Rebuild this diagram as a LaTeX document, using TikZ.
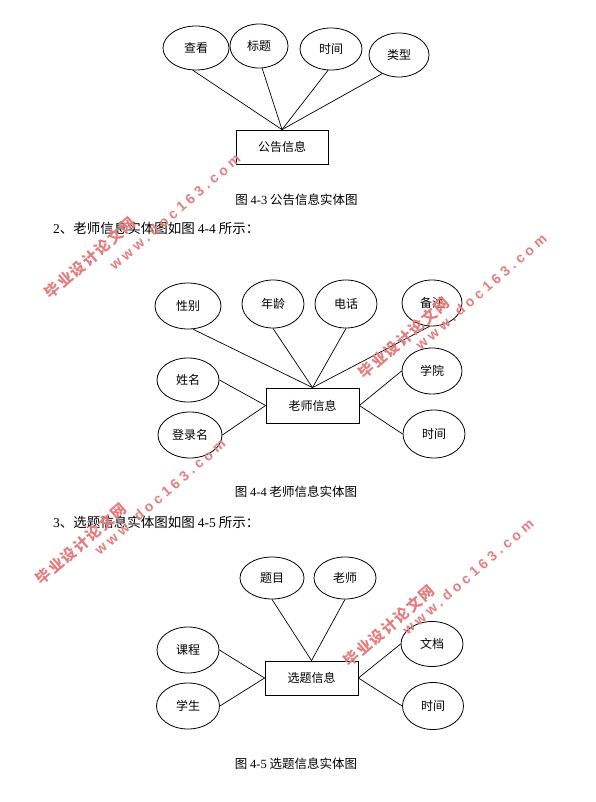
\documentclass[tikz,border=0pt]{standalone}
\usepackage{fontspec}
\setmainfont{Liberation Serif}
\newfontfamily\cjk{Noto Sans CJK SC}
\newfontfamily\wmcjk{Noto Sans CJK SC}[LetterSpace=10]
\newfontfamily\wmlat{Liberation Sans}[LetterSpace=28]
\usetikzlibrary{shapes.geometric}
\definecolor{wm}{RGB}{228,125,125}
\tikzset{
  attr/.style={draw, ellipse, inner sep=0pt, line width=0.8pt,
    font=\cjk\fontsize{12}{14}\selectfont},
  ent/.style={draw, rectangle, inner sep=0pt, line width=0.8pt,
    minimum width=93pt, minimum height=34pt,
    font=\cjk\fontsize{12}{14}\selectfont},
  conn/.style={line width=0.7pt},
  caption/.style={inner sep=0pt, font=\cjk\fontsize{12.5}{14}\selectfont},
  bodytext/.style={inner sep=0pt, anchor=west, font=\cjk\fontsize{13.5}{15}\selectfont},
  wmcn/.style={text=wm, rotate=41, inner sep=0pt, font=\wmcjk\bfseries\fontsize{15}{17}\selectfont},
  wmen/.style={text=wm, rotate=41, inner sep=0pt, font=\wmlat\bfseries\fontsize{14}{16}\selectfont},
}
\begin{document}
\begin{tikzpicture}[x=1pt,y=-1pt]
\useasboundingbox (0,0) rectangle (596,802);
\fill[white] (0,0) rectangle (596,802);

% ---------- Figure 4-3 ----------
\node[attr, minimum width=66pt, minimum height=44pt] (a1) at (196,48) {查看};
\node[attr, minimum width=58pt, minimum height=44pt] (a2) at (259,46) {标题};
\node[attr, minimum width=62pt, minimum height=42pt] (a3) at (331,49) {时间};
\node[attr, minimum width=60pt, minimum height=44pt] (a4) at (399,55) {类型};
\node[ent, minimum width=92pt] (e1) at (282,147) {公告信息};
\draw[conn] (a1.262) -- (e1.north);
\draw[conn] (a2.278) -- (e1.north);
\draw[conn] (a3.262) -- (e1.north);
\draw[conn] (a4.228) -- (e1.north);
\node[caption] (cap1) at (296.5,200) {图 {\rmfamily 4-3} 公告信息实体图};

\node[bodytext] (t2) at (53,228) {{\rmfamily 2}、老师信息实体图如图 {\rmfamily 4-4} 所示：};

% ---------- Figure 4-4 ----------
\node[attr, minimum width=66pt, minimum height=46pt] (b1) at (188,306) {性别};
\node[attr, minimum width=62pt, minimum height=48pt] (b2) at (273,304) {年龄};
\node[attr, minimum width=62pt, minimum height=48pt] (b3) at (346,304) {电话};
\node[attr, minimum width=60pt, minimum height=46pt] (b4) at (432,303) {备注};
\node[attr, minimum width=62pt, minimum height=44pt] (b5) at (188,380) {姓名};
\node[attr, minimum width=64pt, minimum height=46pt] (b6) at (190,435) {登录名};
\node[attr, minimum width=60pt, minimum height=46pt] (b7) at (432,371) {学院};
\node[attr, minimum width=62pt, minimum height=48pt] (b8) at (434,434) {时间};
\node[ent, minimum height=35pt] (e2) at (312.5,405.5) {老师信息};
\draw[conn] (b1.282) -- (e2.north);
\draw[conn] (b2.south) -- (e2.north);
\draw[conn] (b3.south) -- (e2.north);
\draw[conn] (b4.264) -- (e2.north);
\draw[conn] (b5.east) -- (e2.west);
\draw[conn] (b6.east) -- (e2.west);
\draw[conn] (b7.west) -- (e2.east);
\draw[conn] (b8.west) -- (e2.east);
\node[caption] (cap2) at (296,492) {图 {\rmfamily 4-4} 老师信息实体图};

\node[bodytext] (t3) at (53,522) {{\rmfamily 3}、选题信息实体图如图 {\rmfamily 4-5} 所示：};

% ---------- Figure 4-5 ----------
\node[attr, minimum width=64pt, minimum height=42pt] (c1) at (272,578) {题目};
\node[attr, minimum width=62pt, minimum height=42pt] (c2) at (345,578) {老师};
\node[attr, minimum width=62pt, minimum height=46pt] (c3) at (188,650) {课程};
\node[attr, minimum width=63pt, minimum height=46pt] (c4) at (188,706) {学生};
\node[attr, minimum width=62pt, minimum height=45pt] (c5) at (432,644) {文档};
\node[attr, minimum width=61pt, minimum height=47pt] (c6) at (433,706) {时间};
\node[ent] (e3) at (311.5,678) {选题信息};
\draw[conn] (c1.south) -- (e3.north);
\draw[conn] (c2.south) -- (e3.north);
\draw[conn] (c3.east) -- (e3.west);
\draw[conn] (c4.east) -- (e3.west);
\draw[conn] (c5.west) -- (e3.east);
\draw[conn] (c6.west) -- (e3.east);
\node[caption] (cap3) at (296,764) {图 {\rmfamily 4-5} 选题信息实体图};

% ---------- watermarks ----------
\node[wmcn] (wa1) at (90,258) {毕业设计论文网};
\node[wmen] (wa2) at (175,212) {www.doc163.com};
\node[wmcn] (wb1) at (404,338) {毕业设计论文网};
\node[wmen] (wb2) at (481,292) {www.doc163.com};
\node[wmcn] (wc1) at (81,544) {毕业设计论文网};
\node[wmen] (wc2) at (160,497) {www.doc163.com};
\node[wmcn] (wd1) at (389,626) {毕业设计论文网};
\node[wmen] (wd2) at (468,577) {www.doc163.com};
\end{tikzpicture}
\end{document}
